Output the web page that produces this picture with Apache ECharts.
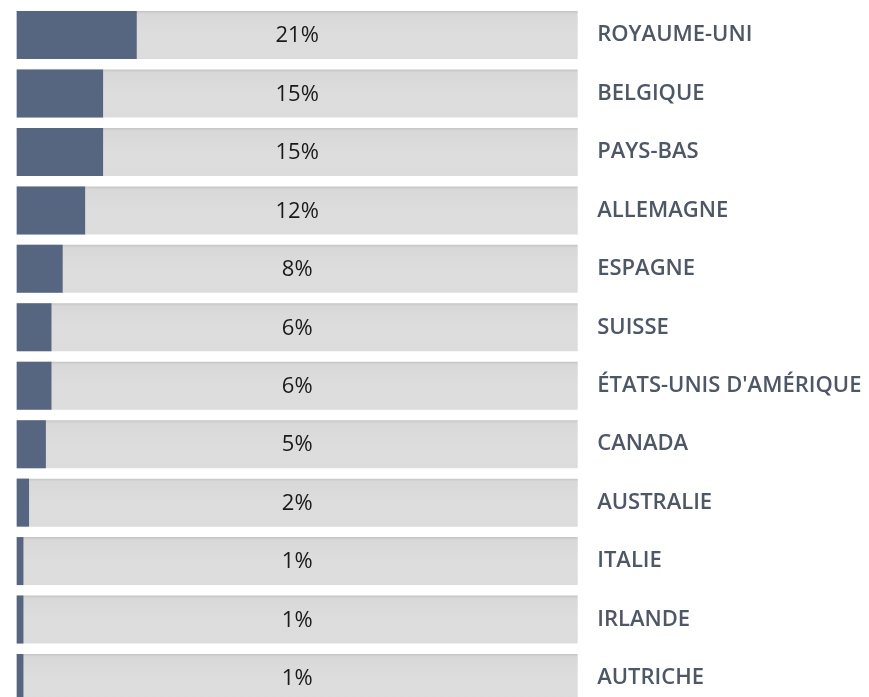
<!DOCTYPE html>
<html>
<head>
<meta charset="utf-8">
<title>Répartition par pays</title>
<script src="https://cdn.jsdelivr.net/npm/echarts@6/dist/echarts.min.js"></script>
<style>
    html, body { margin: 0; padding: 0; background: #ffffff; }
    #chart { width: 869px; height: 697px; }
</style>
</head>
<body>
<div id="chart"></div>
<script>
// pays, du plus grand au plus petit
var countries = ['ROYAUME-UNI', 'BELGIQUE', 'PAYS-BAS', 'ALLEMAGNE', 'ESPAGNE', 'SUISSE',
    'ÉTATS-UNIS D\'AMÉRIQUE', 'CANADA', 'AUSTRALIE', 'ITALIE', 'IRLANDE', 'AUTRICHE'];
var shares = [21.4, 15.4, 15.4, 12.2, 8.2, 6.2, 6.2, 5.2, 2.2, 1.2, 1.2, 1.2];
// pourcentages affichés
var shownPct = [21, 15, 15, 12, 8, 6, 6, 5, 2, 1, 1, 1];
var axisMax = 100;

var myChart = echarts.init(document.getElementById('chart'));

var option = {
    backgroundColor: '#ffffff',
    animation: false,
    grid: {
        left: 16.7,
        top: 5.8,
        width: 561,
        height: 701.4,
        outerBoundsMode: 'none',
        containLabel: false
    },
    xAxis: {
        type: 'value',
        min: 0,
        max: axisMax,
        show: false
    },
    yAxis: {
        type: 'category',
        inverse: true,
        position: 'right',
        data: countries,
        axisLine: { show: false },
        axisTick: { show: false },
        splitLine: { show: false },
        axisLabel: {
            margin: 19.5,
            align: 'left',
            verticalAlign: 'middle',
            padding: [0, 0, 10, 0],
            fontFamily: 'Open Sans',
            fontWeight: 600,
            fontSize: 22,
            color: '#4e5766'
        }
    },
    series: [
        {
            // fond gris de chaque barre
            name: 'track',
            type: 'bar',
            barWidth: 48,
            barGap: '-100%',
            silent: true,
            z: 1,
            data: countries.map(function () { return axisMax; }),
            itemStyle: {
                color: new echarts.graphic.LinearGradient(0, 0, 0, 1, [
                    { offset: 0, color: '#c4c4c4' },
                    { offset: 0.06, color: '#d8d8d8' },
                    { offset: 0.5, color: '#dddddd' },
                    { offset: 1, color: '#dcdcdc' }
                ])
            },
            label: {
                show: true,
                position: 'inside',
                offset: [0, 1],
                formatter: function (p) { return shownPct[p.dataIndex] + '%'; },
                fontFamily: 'Open Sans',
                fontSize: 22,
                color: '#1a1a1a'
            }
        },
        {
            name: 'part',
            type: 'bar',
            barWidth: 48,
            barGap: '-100%',
            z: 2,
            data: shares,
            itemStyle: { color: '#566680' }
        }
    ]
};

myChart.setOption(option);
window.addEventListener('resize', function () { myChart.resize(); });
</script>
</body>
</html>
